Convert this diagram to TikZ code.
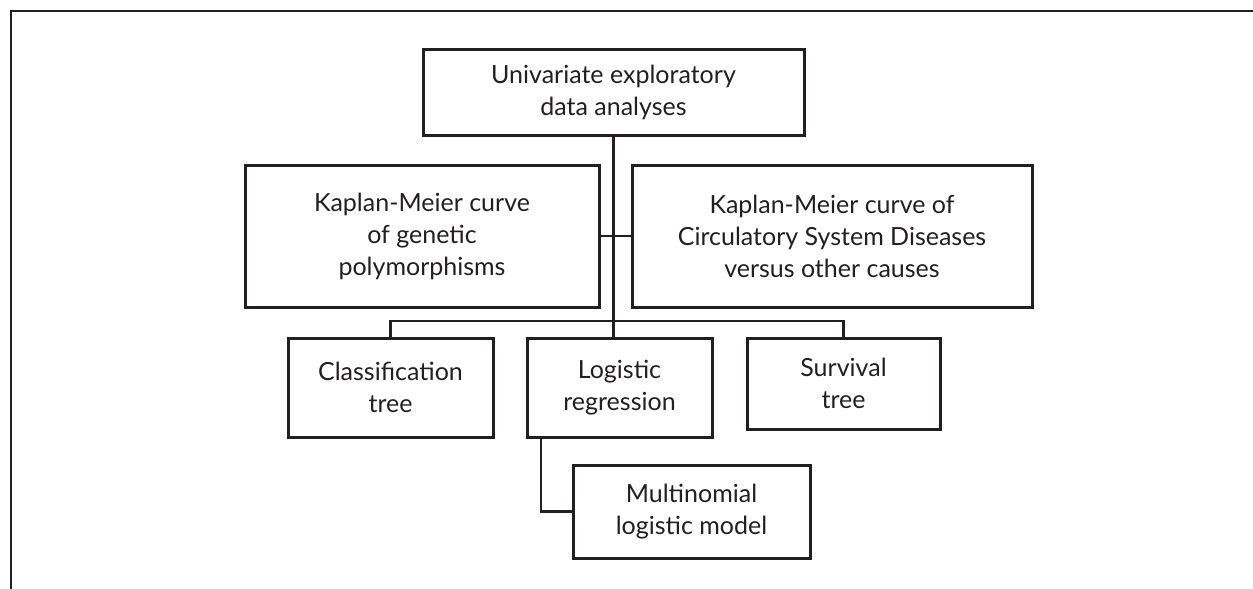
\documentclass[tikz,border=0pt]{standalone}
\usepackage{fontspec}
\setmainfont{Lato}
\usepackage{xcolor}
\definecolor{ink}{RGB}{35,31,32}

\begin{document}
\begin{tikzpicture}[x=0.5pt, y=-0.5pt,
  box/.style={draw=ink, text=ink, line width=1.5pt, align=center, inner sep=0pt,
    font=\fontsize{12.5}{16}\selectfont},
  link/.style={draw=ink, line width=1.2pt}]
\useasboundingbox (0,0) rectangle (1253,589);

% Frame
\draw[ink, line width=0.7pt] (1253,11) -- (11,11) -- (11,589);

% Top box
\node[box, minimum width=190.5pt, minimum height=43pt] (eda) at (613.5,92)
  {Univariate exploratory\\data analyses};

% Kaplan-Meier boxes
\node[box, minimum width=177pt, minimum height=71pt] (kmgen) at (422,236)
  {Kaplan-Meier curve\\of genetic\\polymorphisms};
\node[box, minimum width=200pt, minimum height=71pt] (kmcsd) at (832,236)
  {Kaplan-Meier curve of\\Circulatory System Diseases\\versus other causes};

% Models
\node[box, minimum width=102.5pt, minimum height=49.5pt] (ctree) at (390.5,387.5)
  {Classification\\tree};
\node[box, minimum width=92.5pt, minimum height=49.5pt] (logit) at (619.5,387.5)
  {Logistic\\regression};
\node[box, minimum width=96.5pt, minimum height=45.5pt] (stree) at (843.5,383.5)
  {Survival\\tree};
\node[box, minimum width=118.5pt, minimum height=46.5pt] (multi) at (691.5,511.5)
  {Multinomial\\logistic model};

% Connectors
\coordinate (bus) at (613.5,321);
\draw[link] (eda.south) -- (eda.south |- logit.north);
\draw[link] (kmgen.east) -- (kmcsd.west);
\draw[link] (ctree.north) |- (bus) -| (stree.north);
\draw[link] ([xshift=7.75pt]logit.south west) |- (multi.west);
\end{tikzpicture}
\end{document}
